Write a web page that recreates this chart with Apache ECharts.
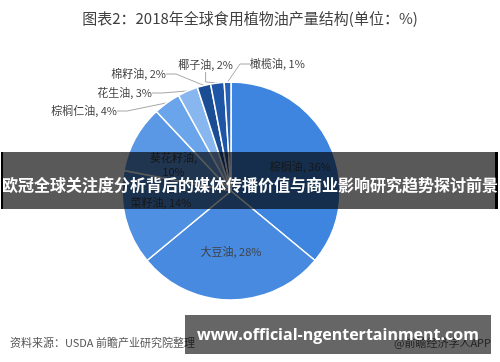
<!DOCTYPE html>
<html><head><meta charset="utf-8">
<script src="https://cdn.jsdelivr.net/npm/echarts@6/dist/echarts.min.js"></script>
<style>html,body{margin:0;padding:0;background:#fff}#c{width:500px;height:362px}</style>
</head><body><div id="c"></div>
<script>
const categories = ['棕榈油','大豆油','菜籽油','葵花籽油','棕榈仁油','花生油','棉籽油','椰子油','橄榄油'];
const values = [36, 28, 14, 10, 4, 3, 2, 2, 1];
const titleText = '图表2：2018年全球食用植物油产量结构(单位：%)';
const bandText = '欧冠全球关注度分析背后的媒体传播价值与商业影响研究趋势探讨前景';
const urlText = 'www.official-ngentertainment.com';
const sourceText = '资料来源：USDA 前瞻产业研究院整理';
const appText = '@前瞻经济学人APP';

const colors = ['#3d85df','#478ae0','#4f90e3','#5a98e6','#6aa4ea','#88b7ef','#1b4d95','#1e55a6','#2761b5'];
const CX = 231, CY = 191, R = 109;
// inside labels pushed outward by [fx, fy] factors; outside labels placed
const insideSet = {0: [1.33, 1.0], 1: [1.05, 1.05], 2: [1.26, 0.86], 3: [1.14, 0.93]};
const outsidePos = {
  4: {x: 117, y: 111, align: 'right'},
  5: {x: 152, y: 93, align: 'right'},
  6: {x: 166, y: 74, align: 'right'},
  7: {x: 233, y: 65, align: 'right'},
  8: {x: 250, y: 64, align: 'left'}
};

const chart = echarts.init(document.getElementById('c'));
chart.setOption({
  animation: false,
  title: {text: titleText, left: 'center', top: 6,
    textStyle: {fontSize: 15, fontWeight: 'normal', color: '#404040', fontFamily: 'Noto Sans CJK SC'}},
  series: [{
    type: 'pie',
    center: [CX, CY],
    radius: [0, R],
    startAngle: 90,
    clockwise: true,
    data: categories.map((n, i) => ({
      name: n, value: values[i],
      itemStyle: {color: colors[i]},
      label: i < 4 ? {position: 'inside'} : {position: 'outside'},
      labelLine: {show: i >= 4}
    })),
    itemStyle: {borderColor: '#fff', borderWidth: 1.5},
    label: {
      fontSize: 11, color: '#404040', fontFamily: 'Noto Sans CJK SC',
      formatter: p => p.name === '葵花籽油' ? p.name + ',\n' + p.value + '%' : p.name + ', ' + p.value + '%',
      lineHeight: 14
    },
    labelLine: {lineStyle: {color: '#a6a6a6', width: 1}, length: 10, length2: 10},
    labelLayout: function (p) {
      const i = p.dataIndex;
      if (insideSet[i] != null) {
        const r = p.labelRect;
        const lx = r.x + r.width / 2, ly = r.y + r.height / 2;
        const f = insideSet[i];
        return {dx: (lx - CX) * (f[0] - 1), dy: (ly - CY) * (f[1] - 1)};
      }
      const o = outsidePos[i];
      if (o) return {x: o.x, y: o.y, align: o.align, verticalAlign: 'middle'};
      return {};
    }
  }],
  graphic: [
    {type: 'rect', z: 100, shape: {x: 2, y: 152, width: 496, height: 57}, style: {fill: 'rgba(0,0,0,0.65)'}},
    {type: 'rect', z: 101, shape: {x: 1, y: 152, width: 2, height: 57}, style: {fill: '#000'}},
    {type: 'rect', z: 101, shape: {x: 495, y: 152, width: 3, height: 57}, style: {fill: '#000'}},
    {type: 'text', z: 102, x: 250, y: 185, style: {text: bandText, fill: '#fff', fontSize: 16, fontWeight: 'bold',
      fontFamily: 'Noto Sans CJK SC', align: 'center', verticalAlign: 'middle'}},
    {type: 'text', z: 90, x: 10, y: 343, style: {text: sourceText, fill: '#555', fontSize: 11,
      fontFamily: 'Noto Sans CJK SC', verticalAlign: 'middle'}},
    {type: 'text', z: 90, x: 491, y: 343, style: {text: appText, fill: '#555', fontSize: 11,
      fontFamily: 'Noto Sans CJK SC', align: 'right', verticalAlign: 'middle'}},
    {type: 'rect', z: 100, shape: {x: 185, y: 315, width: 306, height: 39}, style: {fill: 'rgba(0,0,0,0.6)'}},
    {type: 'text', z: 102, x: 338, y: 335, style: {text: urlText, fill: '#fff', fontSize: 16, fontWeight: 'bold',
      fontFamily: 'Open Sans', align: 'center', verticalAlign: 'middle'}}
  ]
});
</script></body></html>
